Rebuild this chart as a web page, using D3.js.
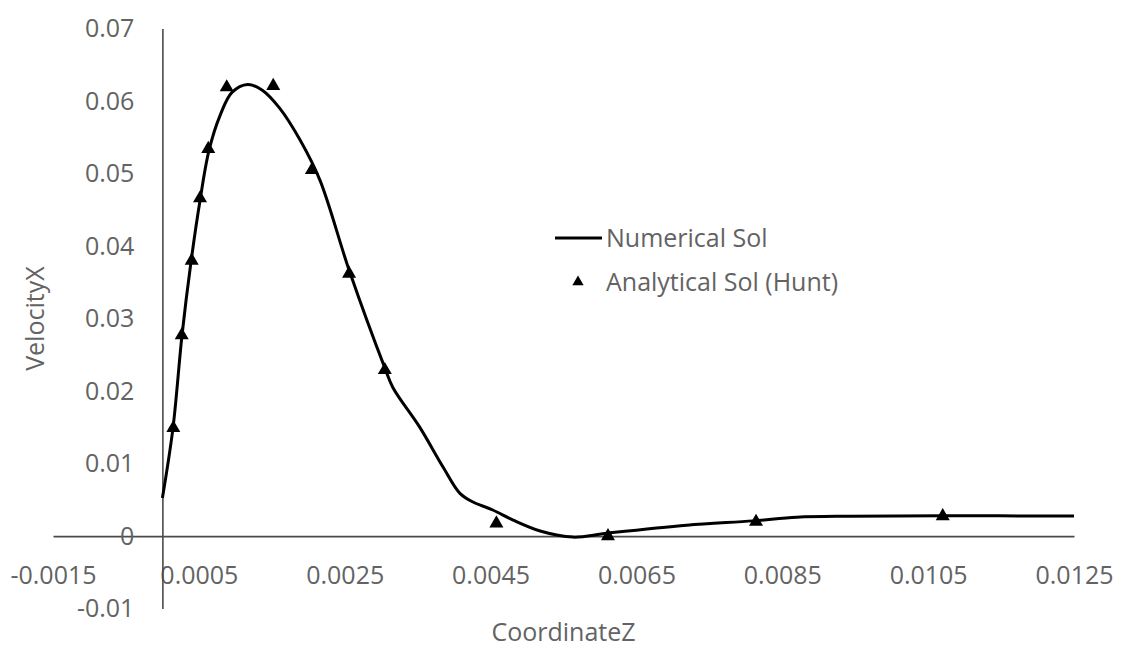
<!DOCTYPE html>
<html>
<head>
<meta charset="utf-8">
<script src="https://cdn.jsdelivr.net/npm/d3@7"></script>
<style>
  html, body { margin: 0; padding: 0; background: #fff; }
  svg { display: block; }
  text { font-family: "Open Sans", "Noto Sans", sans-serif; fill: #636363; }
</style>
</head>
<body>
<svg id="chart" width="1123" height="648"></svg>
<script>
// Numerical solution (CoordinateZ, VelocityX)
const numX = [0, 0.000145, 0.000269, 0.000392, 0.000516, 0.000639, 0.00079, 0.000954, 0.00117, 0.00137,
  0.00161, 0.00189, 0.00216, 0.00256, 0.00305, 0.00316, 0.00353, 0.00385, 0.00408, 0.00426,
  0.00453, 0.00481, 0.00518, 0.00563, 0.0061, 0.00719, 0.0081, 0.0087, 0.00943, 0.0107, 0.0125];
const numY = [0.00524, 0.0149, 0.0277, 0.0378, 0.0463, 0.0532, 0.058, 0.0612, 0.0623, 0.0615,
  0.059, 0.0546, 0.0491, 0.0367, 0.0232, 0.0205, 0.015, 0.0095, 0.0059, 0.0047,
  0.0036, 0.0022, 0.0007, -0.00014, 0.0004, 0.0015, 0.0021, 0.0026, 0.00274, 0.0028, 0.00276];

// Analytical solution (Hunt)
const anaX = [0.00015, 0.000265, 0.000402, 0.000516, 0.000629, 0.000882, 0.00152, 0.00205, 0.00256, 0.00305,
  0.00458, 0.00611, 0.00814, 0.0107];
const anaY = [0.0149, 0.0277, 0.038, 0.0466, 0.0534, 0.0619, 0.0621, 0.0505, 0.0362, 0.0229,
  0.00175, 0.0, 0.00197, 0.00276];

const xTicks = [-0.0015, 0.0005, 0.0025, 0.0045, 0.0065, 0.0085, 0.0105, 0.0125];
const xTickLabels = ["-0.0015", "0.0005", "0.0025", "0.0045", "0.0065", "0.0085", "0.0105", "0.0125"];
const yTicks = [-0.01, 0, 0.01, 0.02, 0.03, 0.04, 0.05, 0.06, 0.07];
const yTickLabels = ["-0.01", "0", "0.01", "0.02", "0.03", "0.04", "0.05", "0.06", "0.07"];

const seriesNames = ["Numerical Sol", "Analytical Sol (Hunt)"];
const xTitle = "CoordinateZ";
const yTitle = "VelocityX";

const svg = d3.select("#chart");
const x = d3.scaleLinear().domain([-0.0015, 0.0125]).range([53, 1074]);
const y = d3.scaleLinear().domain([-0.01, 0.07]).range([608.6, 28.6]);

const axisColor = "#4a4a4a";
const textColor = "#636363";
const fontSize = 25;

// X axis at y = 0
const xAxis = d3.axisBottom(x).tickValues(xTicks)
  .tickFormat((d, i) => xTickLabels[i]).tickSize(0).tickSizeOuter(0).tickPadding(30);
const gx = svg.append("g").attr("transform", `translate(0,${y(0)})`).call(xAxis);
gx.select(".domain").attr("stroke", axisColor).attr("stroke-width", 1.6);
gx.selectAll("text").attr("font-size", fontSize).attr("fill", textColor)
  .attr("font-family", '"Open Sans", sans-serif');

// Y axis at x = 0
const yAxis = d3.axisLeft(y).tickValues(yTicks)
  .tickFormat((d, i) => yTickLabels[i]).tickSize(0).tickSizeOuter(0).tickPadding(28);
const gy = svg.append("g").attr("transform", `translate(${x(0)},0)`).call(yAxis);
gy.select(".domain").attr("stroke", axisColor).attr("stroke-width", 1.6);
gy.selectAll("text").attr("font-size", fontSize).attr("fill", textColor)
  .attr("font-family", '"Open Sans", sans-serif');

// Axis titles
svg.append("text").attr("x", (x.range()[0] + x.range()[1]) / 2).attr("y", 641)
  .attr("text-anchor", "middle").attr("font-size", fontSize).text(xTitle);
svg.append("text").attr("transform", `translate(44,${(y.range()[0] + y.range()[1]) / 2}) rotate(-90)`)
  .attr("text-anchor", "middle").attr("font-size", fontSize).text(yTitle);

// Numerical line
const numData = numX.map((v, i) => [v, numY[i]]);
const line = d3.line().x(d => x(d[0])).y(d => y(d[1])).curve(d3.curveCatmullRom.alpha(0.5));
svg.append("path").datum(numData).attr("d", line)
  .attr("fill", "none").attr("stroke", "#000").attr("stroke-width", 3);

// Analytical triangles
const anaData = anaX.map((v, i) => [v, anaY[i]]);
const tri = d3.symbol().type(d3.symbolTriangle).size(85);
svg.append("g").selectAll("path").data(anaData).join("path")
  .attr("d", tri).attr("fill", "#000")
  .attr("transform", d => `translate(${x(d[0])},${y(d[1])})`);

// Legend
const lg = svg.append("g");
lg.append("line").attr("x1", 555).attr("x2", 602).attr("y1", 238).attr("y2", 238)
  .attr("stroke", "#000").attr("stroke-width", 3);
lg.append("text").attr("x", 606).attr("y", 238).attr("dy", "0.35em")
  .attr("font-size", fontSize).text(seriesNames[0]);
lg.append("path").attr("d", d3.symbol().type(d3.symbolTriangle).size(55))
  .attr("transform", "translate(578,282)").attr("fill", "#000");
lg.append("text").attr("x", 606).attr("y", 282).attr("dy", "0.35em")
  .attr("font-size", fontSize).text(seriesNames[1]);
</script>
</body>
</html>
